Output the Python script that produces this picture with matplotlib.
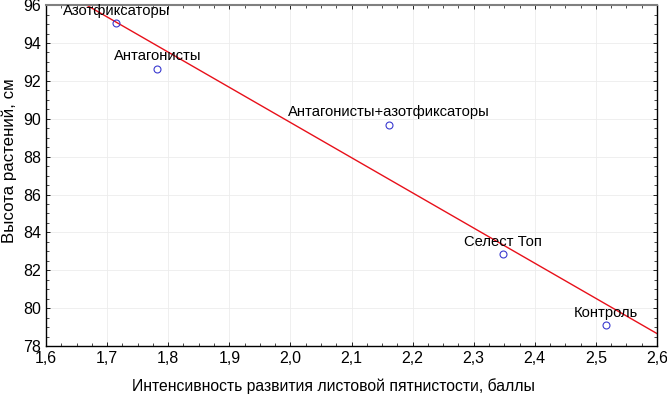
import matplotlib
matplotlib.use("Agg")
import matplotlib.pyplot as plt
import numpy as np
from matplotlib.ticker import MultipleLocator, FuncFormatter, AutoMinorLocator

plt.rcParams['font.family'] = ['Liberation Sans', 'DejaVu Sans']

# данные
variants = ['Азотфиксаторы', 'Антагонисты', 'Антагонисты+азотфиксаторы', 'Селест Топ', 'Контроль']
spot_intensity = [1.715, 1.782, 2.161, 2.348, 2.517]
plant_height = [95.05, 92.63, 89.68, 82.84, 79.1]

x = np.array(spot_intensity)
y = np.array(plant_height)
k, b = np.polyfit(x, y, 1)

fig = plt.figure(figsize=(6.67, 3.95), dpi=100)
ax = fig.add_axes([0.069, 0.124, 0.916, 0.863])

xl = np.array([1.6, 2.6])
ax.plot(xl, k * xl + b, color='#e8101a', lw=1.0, zorder=2)
ax.plot(x, y, 'o', mfc='none', mec='#3a3ad0', ms=5, mew=0.8, zorder=3)

for name, xi, yi in zip(variants, x, y):
    ax.annotate(name, (xi, yi), xytext=(0, 4), textcoords='offset points',
                ha='center', va='bottom', fontsize=10.6, zorder=4)

ax.set_xlim(1.6, 2.6)
ax.set_ylim(78, 96)
ax.xaxis.set_major_locator(MultipleLocator(0.1))
ax.yaxis.set_major_locator(MultipleLocator(2))
ax.xaxis.set_minor_locator(AutoMinorLocator(4))
ax.yaxis.set_minor_locator(AutoMinorLocator(4))
ax.xaxis.set_major_formatter(FuncFormatter(lambda v, p: f'{v:.1f}'.replace('.', ',')))
ax.yaxis.set_major_formatter(FuncFormatter(lambda v, p: f'{v:.0f}'))
ax.tick_params(which='both', direction='in', top=True, right=True, labelsize=11.5)
ax.tick_params(which='major', length=3, width=0.6)
ax.tick_params(which='minor', length=2, width=0.5)
ax.grid(True, which='major', color='#ececec', lw=0.6)
ax.spines['top'].set_color('#808080')
ax.spines['top'].set_linewidth(1.5)
for s in ['left', 'right', 'bottom']:
    ax.spines[s].set_linewidth(1.0)

ax.set_xlabel('Интенсивность развития листовой пятнистости, баллы', fontsize=11.3, labelpad=8)
ax.set_ylabel('Высота растений, см', fontsize=12.2, labelpad=4)
ax.xaxis.set_label_coords(0.47, -0.095)
ax.yaxis.set_label_coords(-0.047, 0.545)

fig.savefig('out.png', dpi=100)
